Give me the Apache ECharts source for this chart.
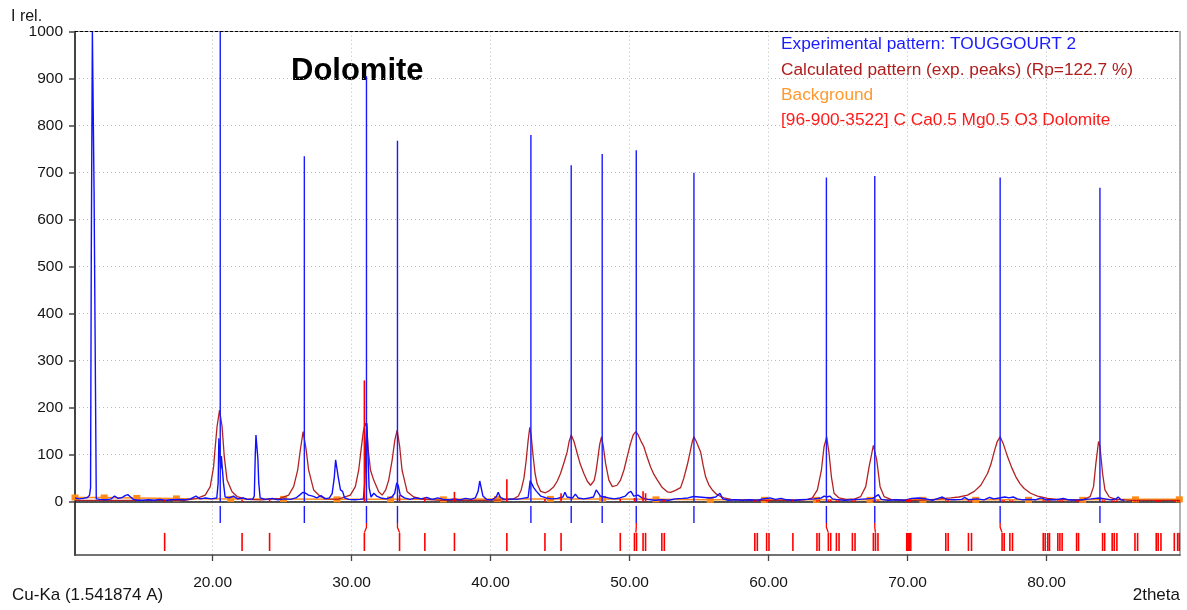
<!DOCTYPE html>
<html><head><meta charset="utf-8">
<script src="https://cdn.jsdelivr.net/npm/echarts@6/dist/echarts.min.js"></script>
<style>html,body{margin:0;padding:0;background:#fff}#c{width:1187px;height:610px}</style>
</head><body><div id="c"></div>
<script>
// ---------- data ----------
const xRange = [10.1, 89.6];
const xTicks = [20, 30, 40, 50, 60, 70, 80];

// Experimental pattern (2theta, I rel.)
const expPattern = [[10.1,8],[10.4,6],[10.7,7],[11.0,9],[11.15,14],[11.22,30],[11.27,511],[11.35,1000],[11.45,1000],[11.47,668],[11.53,668],[11.55,337],[11.6,337],[11.63,6],[11.9,5],[12.3,4],[12.7,6],[12.95,12],[13.2,7],[13.5,9],[13.7,13],[13.9,15],[14.1,10],[14.3,5],[14.6,3],[15.0,3],[15.4,4],[15.8,3],[16.2,5],[16.6,3],[17.0,4],[17.5,5],[18.0,4],[18.4,6],[18.8,12],[19.1,6],[19.5,8],[19.9,6],[20.3,8],[20.4,40],[20.45,135],[20.52,135],[20.58,70],[20.63,97],[20.7,97],[20.78,40],[20.9,10],[21.2,8],[21.5,12],[21.8,6],[22.2,8],[22.5,5],[22.9,6],[23.0,12],[23.07,100],[23.12,142],[23.2,142],[23.26,90],[23.32,40],[23.42,8],[23.8,5],[24.3,7],[24.7,4],[25.2,6],[25.6,5],[26.0,8],[26.3,15],[26.5,20],[26.7,18],[26.9,14],[27.2,12],[27.5,8],[27.8,13],[28.1,6],[28.4,8],[28.6,17],[28.75,50],[28.85,89],[28.95,89],[29.05,50],[29.2,25],[29.35,22],[29.5,8],[29.8,5],[30.2,4],[30.6,5],[30.85,6],[30.95,40],[31.02,120],[31.1,167],[31.18,100],[31.26,30],[31.4,10],[31.6,18],[31.8,12],[32.1,8],[32.5,6],[32.9,10],[33.1,18],[33.25,40],[33.35,35],[33.5,14],[33.8,8],[34.2,5],[34.6,8],[35.0,6],[35.4,9],[35.8,5],[36.2,8],[36.6,5],[37.0,4],[37.4,6],[37.8,4],[38.2,7],[38.6,5],[38.9,8],[39.1,22],[39.22,44],[39.35,44],[39.45,12],[39.7,5],[40.1,4],[40.4,10],[40.55,20],[40.7,9],[41.0,5],[41.5,6],[41.9,5],[42.3,7],[42.7,9],[42.85,45],[42.95,42],[43.1,30],[43.3,22],[43.6,12],[44.0,8],[44.4,6],[44.8,7],[45.2,10],[45.35,20],[45.5,10],[45.9,8],[46.1,16],[46.3,8],[46.7,6],[47.1,8],[47.4,10],[47.6,25],[47.72,22],[47.9,12],[48.2,10],[48.5,8],[48.9,6],[49.3,8],[49.7,12],[49.95,20],[50.1,22],[50.3,12],[50.6,14],[50.9,8],[51.3,5],[51.8,3],[52.3,4],[52.8,3],[53.3,6],[53.8,7],[54.2,8],[54.6,11],[55.0,10],[55.4,9],[55.8,8],[56.2,10],[56.5,18],[56.7,6],[57.1,3],[57.6,4],[58.1,3],[58.6,4],[59.2,3],[59.6,6],[60.1,8],[60.5,5],[60.9,7],[61.3,4],[61.8,3],[62.3,4],[62.8,5],[63.3,6],[63.8,8],[64.0,12],[64.2,10],[64.4,12],[64.6,6],[65.0,4],[65.5,3],[66.0,4],[66.5,5],[67.0,6],[67.5,7],[67.9,15],[68.1,5],[68.6,3],[69.2,4],[69.8,3],[70.3,7],[70.8,8],[71.3,6],[71.8,3],[72.3,8],[72.5,10],[72.8,5],[73.3,4],[73.9,5],[74.1,9],[74.4,4],[75.0,6],[75.5,4],[75.9,9],[76.2,6],[76.6,8],[77.0,10],[77.3,8],[77.6,10],[77.9,6],[78.3,4],[78.8,5],[79.2,4],[79.6,8],[80.0,4],[80.6,4],[81.2,7],[81.6,4],[82.2,3],[82.8,5],[83.2,6],[83.5,7],[83.8,8],[84.2,6],[84.6,4],[85.0,6],[85.15,10],[85.35,4],[85.6,3]];

// Calculated pattern (exp. peaks)
const calcPattern = [[10.1,3],[12,3],[14,3],[16,3],[18,3],[18.88,7],[19.47,14],[19.83,32],[20.07,74],[20.19,117],[20.32,160],[20.5,195],[20.68,160],[20.84,96],[21.04,46],[21.4,21],[21.76,11],[22.48,5],[23.5,4],[24.87,7],[25.47,14],[25.83,32],[26.12,67],[26.31,110],[26.51,149],[26.72,113],[26.91,67],[27.27,25],[27.75,11],[28.24,6],[29.0,5],[29.91,14],[30.27,32],[30.51,67],[30.7,115],[30.85,150],[30.98,167],[31.08,160],[31.2,110],[31.36,67],[31.59,46],[31.95,21],[32.2,14],[32.45,25],[32.67,46],[32.92,89],[33.11,131],[33.28,152],[33.46,117],[33.63,67],[34.0,21],[34.47,10],[35.2,5],[36.5,3],[38,3],[39.5,3],[40.8,4],[41.6,5],[42.0,12],[42.2,25],[42.4,50],[42.55,85],[42.7,130],[42.82,158],[42.92,140],[43.05,100],[43.2,60],[43.35,38],[43.6,22],[43.95,19],[44.2,23],[44.55,32],[44.8,44],[45.03,60],[45.3,85],[45.51,106],[45.65,128],[45.8,142],[46.0,128],[46.23,103],[46.45,80],[46.71,60],[46.95,44],[47.19,35],[47.31,33],[47.45,45],[47.57,62],[47.67,82],[47.85,122],[47.98,138],[48.1,120],[48.27,82],[48.51,46],[48.76,32],[48.9,30],[49.1,35],[49.35,46],[49.6,68],[49.83,96],[50.05,122],[50.26,142],[50.45,149],[50.6,143],[50.8,130],[51.03,117],[51.25,96],[51.51,74],[51.75,58],[52.0,46],[52.35,30],[52.71,21],[52.95,20],[53.3,24],[53.67,30],[53.9,50],[54.15,78],[54.35,105],[54.51,128],[54.63,138],[54.8,128],[55.11,106],[55.3,76],[55.47,53],[55.7,36],[55.95,25],[56.25,16],[56.55,11],[56.8,8],[57.3,5],[58,4],[59,3],[60,3],[61,3],[62,3],[62.8,5],[63.15,8],[63.51,25],[63.8,67],[63.99,117],[64.18,138],[64.35,103],[64.52,53],[64.71,18],[65.07,8],[65.6,5],[66.2,6],[66.63,11],[66.99,32],[67.23,74],[67.54,120],[67.78,89],[68.02,32],[68.31,11],[68.8,5],[69.5,3],[70.5,3],[71.5,4],[72.3,6],[73.11,8],[73.7,10],[74.31,14],[74.8,22],[75.27,35],[75.75,60],[76.0,80],[76.23,106],[76.45,128],[76.66,138],[76.9,122],[77.19,96],[77.5,72],[77.79,53],[78.1,38],[78.39,28],[78.85,18],[79.35,12],[80.07,7],[80.8,5],[81.8,4],[82.6,4],[83.14,11],[83.38,32],[83.55,82],[83.74,128],[83.84,118],[84.03,60],[84.2,25],[84.51,10],[85.0,5],[86,3],[87,3],[88,3],[89.6,3]];

// Background (control points)
const background = [[10.1,9],[12.2,9],[14.55,8],[17.4,7],[21.3,6],[25.1,6],[28.95,5],[32.8,5],[36.6,5],[40.5,6],[44.3,6],[48.05,6],[51.9,5],[55.8,4],[59.7,4],[63.45,4],[67.3,4],[71.1,4],[74.9,4],[78.7,4],[82.6,4],[86.4,5],[89.55,5]];

// Experimental peaks (position, height)
const expPeakPos    = [20.55, 26.6, 31.07, 33.3, 42.9, 45.8, 48.03, 50.48, 54.63, 64.16, 67.64, 76.66, 83.84];
const expPeakHeight = [1000, 735, 905, 768, 780, 716, 740, 748, 700, 690, 693, 690, 668];

// Reference pattern: [96-900-3522] Dolomite
const refPos = [16.55,22.12,24.10,30.92,33.45,35.27,37.40,41.17,43.91,45.07,49.33,50.35,50.50,50.97,51.15,52.32,52.50,59.01,59.19,59.86,60.03,61.75,63.48,63.65,64.30,64.47,64.88,65.07,66.03,66.22,67.54,67.69,67.87,69.94,70.02,70.09,70.16,70.23,72.75,72.92,74.38,74.60,76.80,76.95,77.36,77.55,79.76,79.90,80.09,80.21,80.81,80.96,81.12,82.16,82.30,84.03,84.18,84.72,84.87,85.06,86.36,86.55,87.89,88.03,88.23,89.19,89.43,89.55];
const refHeight = [4,4,5,258,14,9,21,48,6,18,6,8,8,22,18,4,4,3,3,4,4,3,3,4,4,4,3,3,3,3,3,3,3,4,4,5,4,4,3,3,3,3,3,3,3,3,3,3,3,3,3,3,3,3,3,3,3,3,3,3,3,3,3,3,3,3,3,3];

// Links between experimental peak markers and reference lines
const linkFrom = [31.07, 33.30, 50.48, 64.16, 67.64, 76.66];
const linkTo   = [30.92, 33.45, 50.45, 64.30, 67.69, 76.80];

const legendLines = [
  'Experimental pattern: TOUGGOURT 2',
  'Calculated pattern (exp. peaks) (Rp=122.7 %)',
  'Background',
  '[96-900-3522] C Ca0.5 Mg0.5 O3 Dolomite'
];
const phaseLabel = 'Dolomite';
const yName = 'I rel.';
const xName = '2theta';
const waveLabel = 'Cu-Ka (1.541874 A)';

// ---------- chart ----------
const FONT = '"Liberation Sans", Arial, sans-serif';
const chart = echarts.init(document.getElementById('c'), null, {renderer: 'canvas'});

function stick(color, width) {
  return function (params, api) {
    const x = api.value(0), h = api.value(1);
    const p0 = api.coord([x, 0]), p1 = api.coord([x, h]);
    return {type: 'line', shape: {x1: p0[0], y1: p0[1], x2: p1[0], y2: p1[1]},
      style: {stroke: color, lineWidth: width}};
  };
}
function lowTick(color, width, y0, y1) {
  return function (params, api) {
    const x = api.value(0);
    const p0 = api.coord([x, y0]), p1 = api.coord([x, y1]);
    return {type: 'line', shape: {x1: p0[0], y1: p0[1], x2: p1[0], y2: p1[1]},
      style: {stroke: color, lineWidth: width}};
  };
}
function linkRender(params, api) {
  const a = api.coord([api.value(0), 0.60]);
  const m = api.coord([api.value(0), 0.52]);
  const b = api.coord([api.value(1), 0.42]);
  return {type: 'polyline', shape: {points: [a, m, b]}, style: {stroke: '#ff0000', lineWidth: 1.3, fill: null}};
}

const gridLineStyle = {type: [1, 3], color: '#bdbdbd', width: 1};
const legendColors = ['#1a1aff', '#b01c1c', '#ff9a2e', '#ff1a1a'];

const option = {
  animation: false,
  backgroundColor: '#fff',
  grid: [
    {left: 75, right: 7, top: 31.7, height: 470},
    {left: 75, right: 7, top: 501.7, height: 53.3}
  ],
  xAxis: [
    {gridIndex: 0, type: 'value', min: xRange[0], max: xRange[1], minInterval: 10, maxInterval: 10,
      axisLine: {show: true, onZero: false, lineStyle: {color: '#1a1a1a', width: 1.5}},
      axisTick: {show: false}, axisLabel: {show: false},
      splitLine: {show: true, lineStyle: gridLineStyle}},
    {gridIndex: 0, type: 'value', position: 'top', min: xRange[0], max: xRange[1],
      axisLine: {show: true, onZero: false, lineStyle: {color: '#000', width: 1, type: [3, 2]}},
      axisTick: {show: false}, axisLabel: {show: false}, splitLine: {show: false}},
    {gridIndex: 1, type: 'value', position: 'bottom', min: xRange[0], max: xRange[1], minInterval: 10, maxInterval: 10,
      axisLine: {show: true, onZero: false, lineStyle: {color: '#444', width: 1.5}},
      axisTick: {show: true, length: 6, lineStyle: {color: '#444', width: 1.3}, customValues: xTicks},
      axisLabel: {show: true, margin: 20, fontSize: 15.5, color: '#151515', fontFamily: FONT,
        customValues: xTicks, formatter: v => Number(v).toFixed(2)},
      splitLine: {show: true, lineStyle: gridLineStyle}}
  ],
  yAxis: [
    {gridIndex: 0, type: 'value', min: 0, max: 1000, interval: 100,
      axisLine: {show: true, onZero: false, lineStyle: {color: '#444', width: 2}},
      axisTick: {show: true, length: 6, lineStyle: {color: '#444', width: 1.5}},
      axisLabel: {margin: 12, fontSize: 15.5, color: '#151515', fontFamily: FONT, formatter: v => String(v)},
      splitLine: {show: true, lineStyle: gridLineStyle}},
    {gridIndex: 0, type: 'value', position: 'right', min: 0, max: 1000,
      axisLine: {show: true, onZero: false, lineStyle: {color: '#9a9a9a', width: 1.5}},
      axisTick: {show: false}, axisLabel: {show: false}, splitLine: {show: false}},
    {gridIndex: 1, type: 'value', min: 0, max: 1,
      axisLine: {show: true, onZero: false, lineStyle: {color: '#444', width: 2}},
      axisTick: {show: false}, axisLabel: {show: false}, splitLine: {show: false}},
    {gridIndex: 1, type: 'value', position: 'right', min: 0, max: 1,
      axisLine: {show: true, onZero: false, lineStyle: {color: '#9a9a9a', width: 1.5}},
      axisTick: {show: false}, axisLabel: {show: false}, splitLine: {show: false}}
  ],
  series: [
    {type: 'line', name: 'Background', xAxisIndex: 0, yAxisIndex: 0, data: background,
      showSymbol: true, symbol: 'rect', symbolSize: [7, 6], z: 2,
      lineStyle: {color: '#ff8c1a', width: 1.5}, itemStyle: {color: '#ff8c1a'}},
    {type: 'line', name: 'Calculated', xAxisIndex: 0, yAxisIndex: 0, data: calcPattern,
      showSymbol: false, symbol: 'none', z: 3, lineStyle: {color: '#b22222', width: 1.3}},
    {type: 'line', name: 'Experimental', xAxisIndex: 0, yAxisIndex: 0, data: expPattern,
      showSymbol: false, symbol: 'none', z: 4, lineStyle: {color: '#1010ff', width: 1.4}},
    {type: 'custom', name: 'Reference', xAxisIndex: 0, yAxisIndex: 0, z: 5,
      data: refPos.map((p, i) => [p, refHeight[i]]), renderItem: stick('#ff0000', 1.6)},
    {type: 'custom', name: 'Exp peaks', xAxisIndex: 0, yAxisIndex: 0, z: 6,
      data: expPeakPos.map((p, i) => [p, expPeakHeight[i]]), renderItem: stick('#1a1aff', 1.4)},
    {type: 'custom', name: 'Exp ticks', xAxisIndex: 2, yAxisIndex: 2, z: 6,
      data: expPeakPos.map(p => [p]), renderItem: lowTick('#1a1aff', 1.4, 0.60, 0.92)},
    {type: 'custom', name: 'Ref ticks', xAxisIndex: 2, yAxisIndex: 2, z: 6,
      data: refPos.map(p => [p]), renderItem: lowTick('#ff0000', 1.6, 0.075, 0.415)},
    {type: 'custom', name: 'Links', xAxisIndex: 2, yAxisIndex: 2, z: 6,
      data: linkFrom.map((p, i) => [p, linkTo[i]]), renderItem: linkRender}
  ],
  graphic: [
    {type: 'text', left: 11, top: 9, style: {text: yName, fontSize: 16, fill: '#151515', fontFamily: FONT}},
    {type: 'text', left: 12, top: 587, style: {text: waveLabel, fontSize: 17, fill: '#151515', fontFamily: FONT}},
    {type: 'text', right: 7, top: 587, style: {text: xName, fontSize: 17, fill: '#151515', fontFamily: FONT}},
    {type: 'text', left: 291, top: 56, style: {text: phaseLabel, fontSize: 31, fontWeight: 'bold', fill: '#000', fontFamily: FONT}}
  ].concat(legendLines.map((t, i) => ({
    type: 'text', left: 781, top: 36 + i * 25.3,
    style: {text: t, fontSize: 17.3, fill: legendColors[i], fontFamily: FONT}
  })))
};
chart.setOption(option);
</script>
</body></html>
